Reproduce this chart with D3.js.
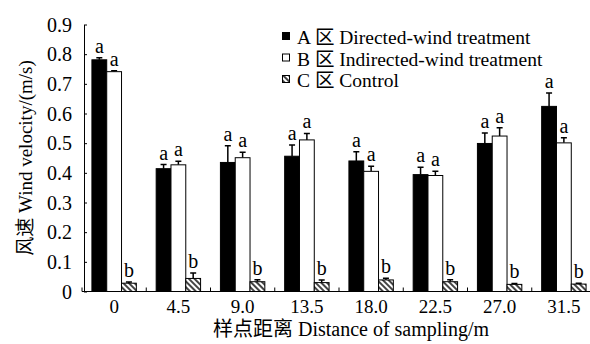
<!DOCTYPE html>
<html>
<head>
<meta charset="utf-8">
<script src="https://cdn.jsdelivr.net/npm/d3@7"></script>
<style>
  body { margin: 0; background: #fff; }
</style>
</head>
<body>
<svg width="590" height="344"></svg>
<script>
var width = 590;
var height = 344;
var serif = '"Liberation Serif", "Times New Roman", serif';
var cjk = '"Noto Sans CJK SC", sans-serif';

// distances along the sampling line (m)
var distances = ['0', '4.5', '9.0', '13.5', '18.0', '22.5', '27.0', '31.5'];
var series = ['A', 'B', 'C'];
var seriesNames = [' Directed-wind treatment', ' Indirected-wind treatment', ' Control'];

// wind velocity means and (upper) error bars, m/s
var valuesA = [0.781, 0.414, 0.435, 0.456, 0.440, 0.394, 0.499, 0.624];
var valuesB = [0.741, 0.427, 0.451, 0.511, 0.405, 0.391, 0.524, 0.501];
var valuesC = [0.028, 0.044, 0.033, 0.030, 0.039, 0.033, 0.024, 0.025];
var errorsA = [0.007, 0.014, 0.056, 0.038, 0.031, 0.025, 0.035, 0.045];
var errorsB = [0.003, 0.012, 0.018, 0.022, 0.017, 0.014, 0.028, 0.017];
var errorsC = [0.004, 0.018, 0.007, 0.009, 0.006, 0.007, 0.003, 0.003];
var lettersA = ['a', 'a', 'a', 'a', 'a', 'a', 'a', 'a'];
var lettersB = ['a', 'a', 'a', 'a', 'a', 'a', 'a', 'a'];
var lettersC = ['b', 'b', 'b', 'b', 'b', 'b', 'b', 'b'];
var yTicks = [0, 0.1, 0.2, 0.3, 0.4, 0.5, 0.6, 0.7, 0.8, 0.9];

var svg = d3.select('svg');

var defs = svg.append('defs');
var hatch = defs.append('pattern')
   .attr('id', 'hatch')
   .attr('patternUnits', 'userSpaceOnUse')
   .attr('width', 4)
   .attr('height', 4)
   .attr('patternTransform', 'rotate(-45)');
hatch.append('rect').attr('width', 4).attr('height', 4).attr('fill', '#fff');
hatch.append('line')
   .attr('x1', 1).attr('y1', 0).attr('x2', 1).attr('y2', 4)
   .attr('stroke', '#444').attr('stroke-width', 2);

var fills = { A: '#000', B: '#fff', C: 'url(#hatch)' };

var rows = distances.map(function(d, i) {
   return {
      dist: d,
      bars: [
         { s: 'A', v: valuesA[i], e: errorsA[i], l: lettersA[i] },
         { s: 'B', v: valuesB[i], e: errorsB[i], l: lettersB[i] },
         { s: 'C', v: valuesC[i], e: errorsC[i], l: lettersC[i] }
      ]
   };
});

var x = d3.scaleBand().domain(distances).range([82, 596]);
var xs = d3.scaleBand().domain(series).range([0, x.bandwidth()]).paddingOuter(0.67);
var y = d3.scaleLinear().domain([0, 0.9]).range([291.5, 24.5]);

// y axis, ticks pointing inward
var yAxis = svg.append('g')
   .attr('transform', 'translate(84,0)')
   .call(d3.axisRight(y).tickValues(yTicks).tickSize(3).tickSizeOuter(0)
      .tickFormat(function(d) { return d === 0 ? '0' : d3.format('.1f')(d); }));
yAxis.select('.domain').attr('stroke', '#000');
yAxis.selectAll('.tick line').attr('stroke', '#000');
yAxis.selectAll('.tick text')
   .attr('x', -12)
   .attr('dy', '0.34em')
   .attr('text-anchor', 'end')
   .attr('font-size', 20)
   .attr('font-family', serif)
   .attr('fill', '#000');

// x axis line, separator ticks between groups
svg.append('line')
   .attr('x1', 82).attr('x2', 596)
   .attr('y1', y(0)).attr('y2', y(0))
   .attr('stroke', '#000');

svg.selectAll('.sep')
   .data(distances)
   .enter()
   .append('line')
   .attr('class', 'sep')
   .attr('x1', function(d) { return x(d); })
   .attr('x2', function(d) { return x(d); })
   .attr('y1', y(0))
   .attr('y2', y(0) - 4)
   .attr('stroke', '#000');

svg.selectAll('.xlab')
   .data(distances)
   .enter()
   .append('text')
   .attr('class', 'xlab')
   .attr('x', function(d) { return x(d) + x.bandwidth() / 2; })
   .attr('y', 313)
   .attr('text-anchor', 'middle')
   .attr('font-family', serif)
   .attr('font-size', 19)
   .text(function(d) { return d; });

// bars
var groups = svg.selectAll('.grp')
   .data(rows)
   .enter()
   .append('g')
   .attr('class', 'grp')
   .attr('transform', function(d) { return 'translate(' + x(d.dist) + ',0)'; });

groups.selectAll('.err')
   .data(function(d) { return d.bars; })
   .enter()
   .append('path')
   .attr('class', 'err')
   .attr('d', function(d) {
      var cx = xs(d.s) + xs.bandwidth() / 2;
      var top = y(d.v + d.e);
      return 'M' + cx + ',' + y(d.v) + 'V' + top + 'M' + (cx - 3) + ',' + top + 'H' + (cx + 3);
   })
   .attr('stroke', '#000')
   .attr('stroke-width', 1.5)
   .attr('fill', 'none');

groups.selectAll('rect')
   .data(function(d) { return d.bars; })
   .enter()
   .append('rect')
   .attr('x', function(d) { return xs(d.s); })
   .attr('y', function(d) { return y(d.v); })
   .attr('width', xs.bandwidth())
   .attr('height', function(d) { return y(0) - y(d.v); })
   .attr('fill', function(d) { return fills[d.s]; })
   .attr('stroke', '#000')
   .attr('stroke-width', 1);

groups.selectAll('.sig')
   .data(function(d) { return d.bars; })
   .enter()
   .append('text')
   .attr('class', 'sig')
   .attr('x', function(d) { return xs(d.s) + xs.bandwidth() / 2; })
   .attr('y', function(d) { return y(d.v + d.e) - 5; })
   .attr('text-anchor', 'middle')
   .attr('font-family', serif)
   .attr('font-size', 20)
   .text(function(d) { return d.l; });

// legend
var legend = svg.selectAll('.leg')
   .data(series)
   .enter()
   .append('g')
   .attr('class', 'leg')
   .attr('transform', function(d, i) { return 'translate(282,' + (44 + i * 21.5) + ')'; });

legend.append('rect')
   .attr('x', 0.5).attr('y', -11.5)
   .attr('width', 7).attr('height', 7)
   .attr('fill', function(d) { return fills[d]; })
   .attr('stroke', '#000');

var legText = legend.append('text')
   .attr('x', 15)
   .attr('font-size', 19.5)
   .attr('font-family', serif);
legText.append('tspan').text(function(d) { return d + ' '; });
legText.append('tspan').attr('font-family', cjk).text('区');
legText.append('tspan').text(function(d, i) { return seriesNames[i]; });

// axis titles
var yTitle = svg.append('text')
   .attr('transform', 'translate(32,158) rotate(-90)')
   .attr('text-anchor', 'middle')
   .attr('font-size', 19)
   .attr('font-family', serif);
yTitle.append('tspan').attr('font-family', cjk).text('风速');
yTitle.append('tspan').text(' Wind velocity/(m/s)');

var xTitle = svg.append('text')
   .attr('x', 351)
   .attr('y', 336)
   .attr('text-anchor', 'middle')
   .attr('font-size', 20)
   .attr('font-family', serif);
xTitle.append('tspan').attr('font-family', cjk).text('样点距离');
xTitle.append('tspan').text(' Distance of sampling/m');
</script>
</body>
</html>
